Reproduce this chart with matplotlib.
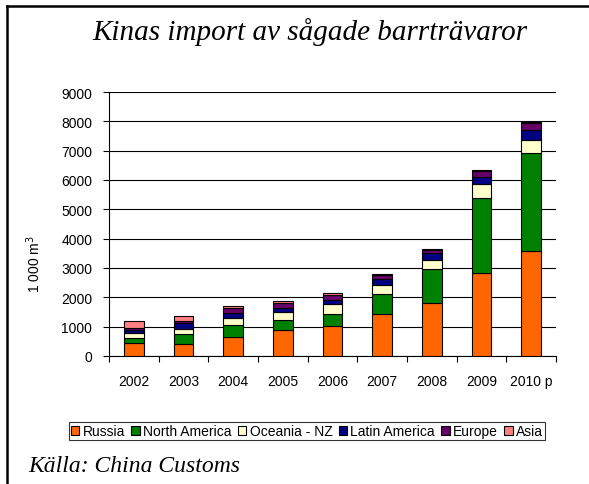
import matplotlib
matplotlib.use("Agg")
import matplotlib.pyplot as plt
import numpy as np
from matplotlib.lines import Line2D

years = ["2002", "2003", "2004", "2005", "2006", "2007", "2008", "2009", "2010 p"]
russia = [455, 420, 655, 897, 1010, 1416, 1800, 2833, 3580]
north_america = [146, 340, 387, 340, 408, 703, 1178, 2547, 3329]
oceania = [194, 170, 248, 258, 340, 292, 295, 486, 442]
latin_america = [88, 180, 170, 136, 156, 217, 238, 238, 340]
europe = [82, 100, 160, 160, 160, 122, 102, 215, 238]
asia = [215, 145, 78, 92, 58, 58, 34, 34, 45]

series = [
    ("Russia", russia, "#FF6600"),
    ("North America", north_america, "#008000"),
    ("Oceania - NZ", oceania, "#FFFFCC"),
    ("Latin America", latin_america, "#000080"),
    ("Europe", europe, "#660066"),
    ("Asia", asia, "#FF8080"),
]

fig = plt.figure(figsize=(5.89, 4.85), dpi=100)
ax = fig.add_axes([109/589, 1-357/485, (556-109)/589, (357-93)/485])

x = np.arange(len(years))
bottom = np.zeros(len(years))
handles = []
for name, vals, col in series:
    vals = np.array(vals, dtype=float)
    b = ax.bar(x, vals, width=0.4, bottom=bottom, color=col, edgecolor="black",
               linewidth=0.8, label=name, zorder=3)
    bottom += vals
    handles.append(b)

ax.set_xlim(-0.5, len(years)-0.5)
ax.set_ylim(0, 9000)
ax.set_yticks(np.arange(0, 9001, 1000))
ax.yaxis.grid(True, color="black", linewidth=0.8, zorder=0)
ax.set_axisbelow(True)
ax.set_xticks(x)
ax.set_xticklabels(years)
ax.set_xticks(np.arange(-0.5, len(years), 1), minor=True)
ax.tick_params(axis="x", which="major", length=0, pad=13, labelsize=10)
ax.tick_params(axis="x", which="minor", length=4, width=0.8, direction="out")
ax.tick_params(axis="y", length=4, width=0.8, direction="out", labelsize=10, pad=8)
for s in ["top", "right"]:
    ax.spines[s].set_visible(False)
ax.spines["left"].set_linewidth(0.8)
ax.spines["bottom"].set_linewidth(0.8)
for lab in ax.get_xticklabels() + ax.get_yticklabels():
    lab.set_fontfamily("Liberation Sans")
ax.set_ylabel("1 000 m$^3$", fontsize=10, fontfamily="Liberation Sans")
ax.yaxis.set_label_coords((43-109)/(556-109), 0.35)

leg = fig.legend(handles=handles, labels=[s[0] for s in series], ncol=6,
                 loc="center", bbox_to_anchor=(307/589, 1-432/485),
                 prop={"family": "Liberation Sans", "size": 10},
                 frameon=True, fancybox=False, edgecolor="black",
                 handlelength=0.6, handleheight=0.6, handletextpad=0.25,
                 columnspacing=0.45, borderpad=0.15, borderaxespad=0)
leg.get_frame().set_linewidth(0.8)

fig.text(310/589, 1-32/485, "Kinas import av sågade barrträvaror", ha="center", va="center",
         fontsize=21, style="italic", fontfamily="Liberation Serif")
fig.text(28/589, 1-467/485, "Källa: China Customs", ha="left", va="center",
         fontsize=17, style="italic", fontfamily="Liberation Serif")

fig.add_artist(Line2D([7/589, 7/589], [0, 1-7/485], transform=fig.transFigure, color="black", linewidth=1.8))
fig.add_artist(Line2D([7/589, 1], [1-7/485, 1-7/485], transform=fig.transFigure, color="black", linewidth=1.8))

fig.savefig("out.png", dpi=100)
